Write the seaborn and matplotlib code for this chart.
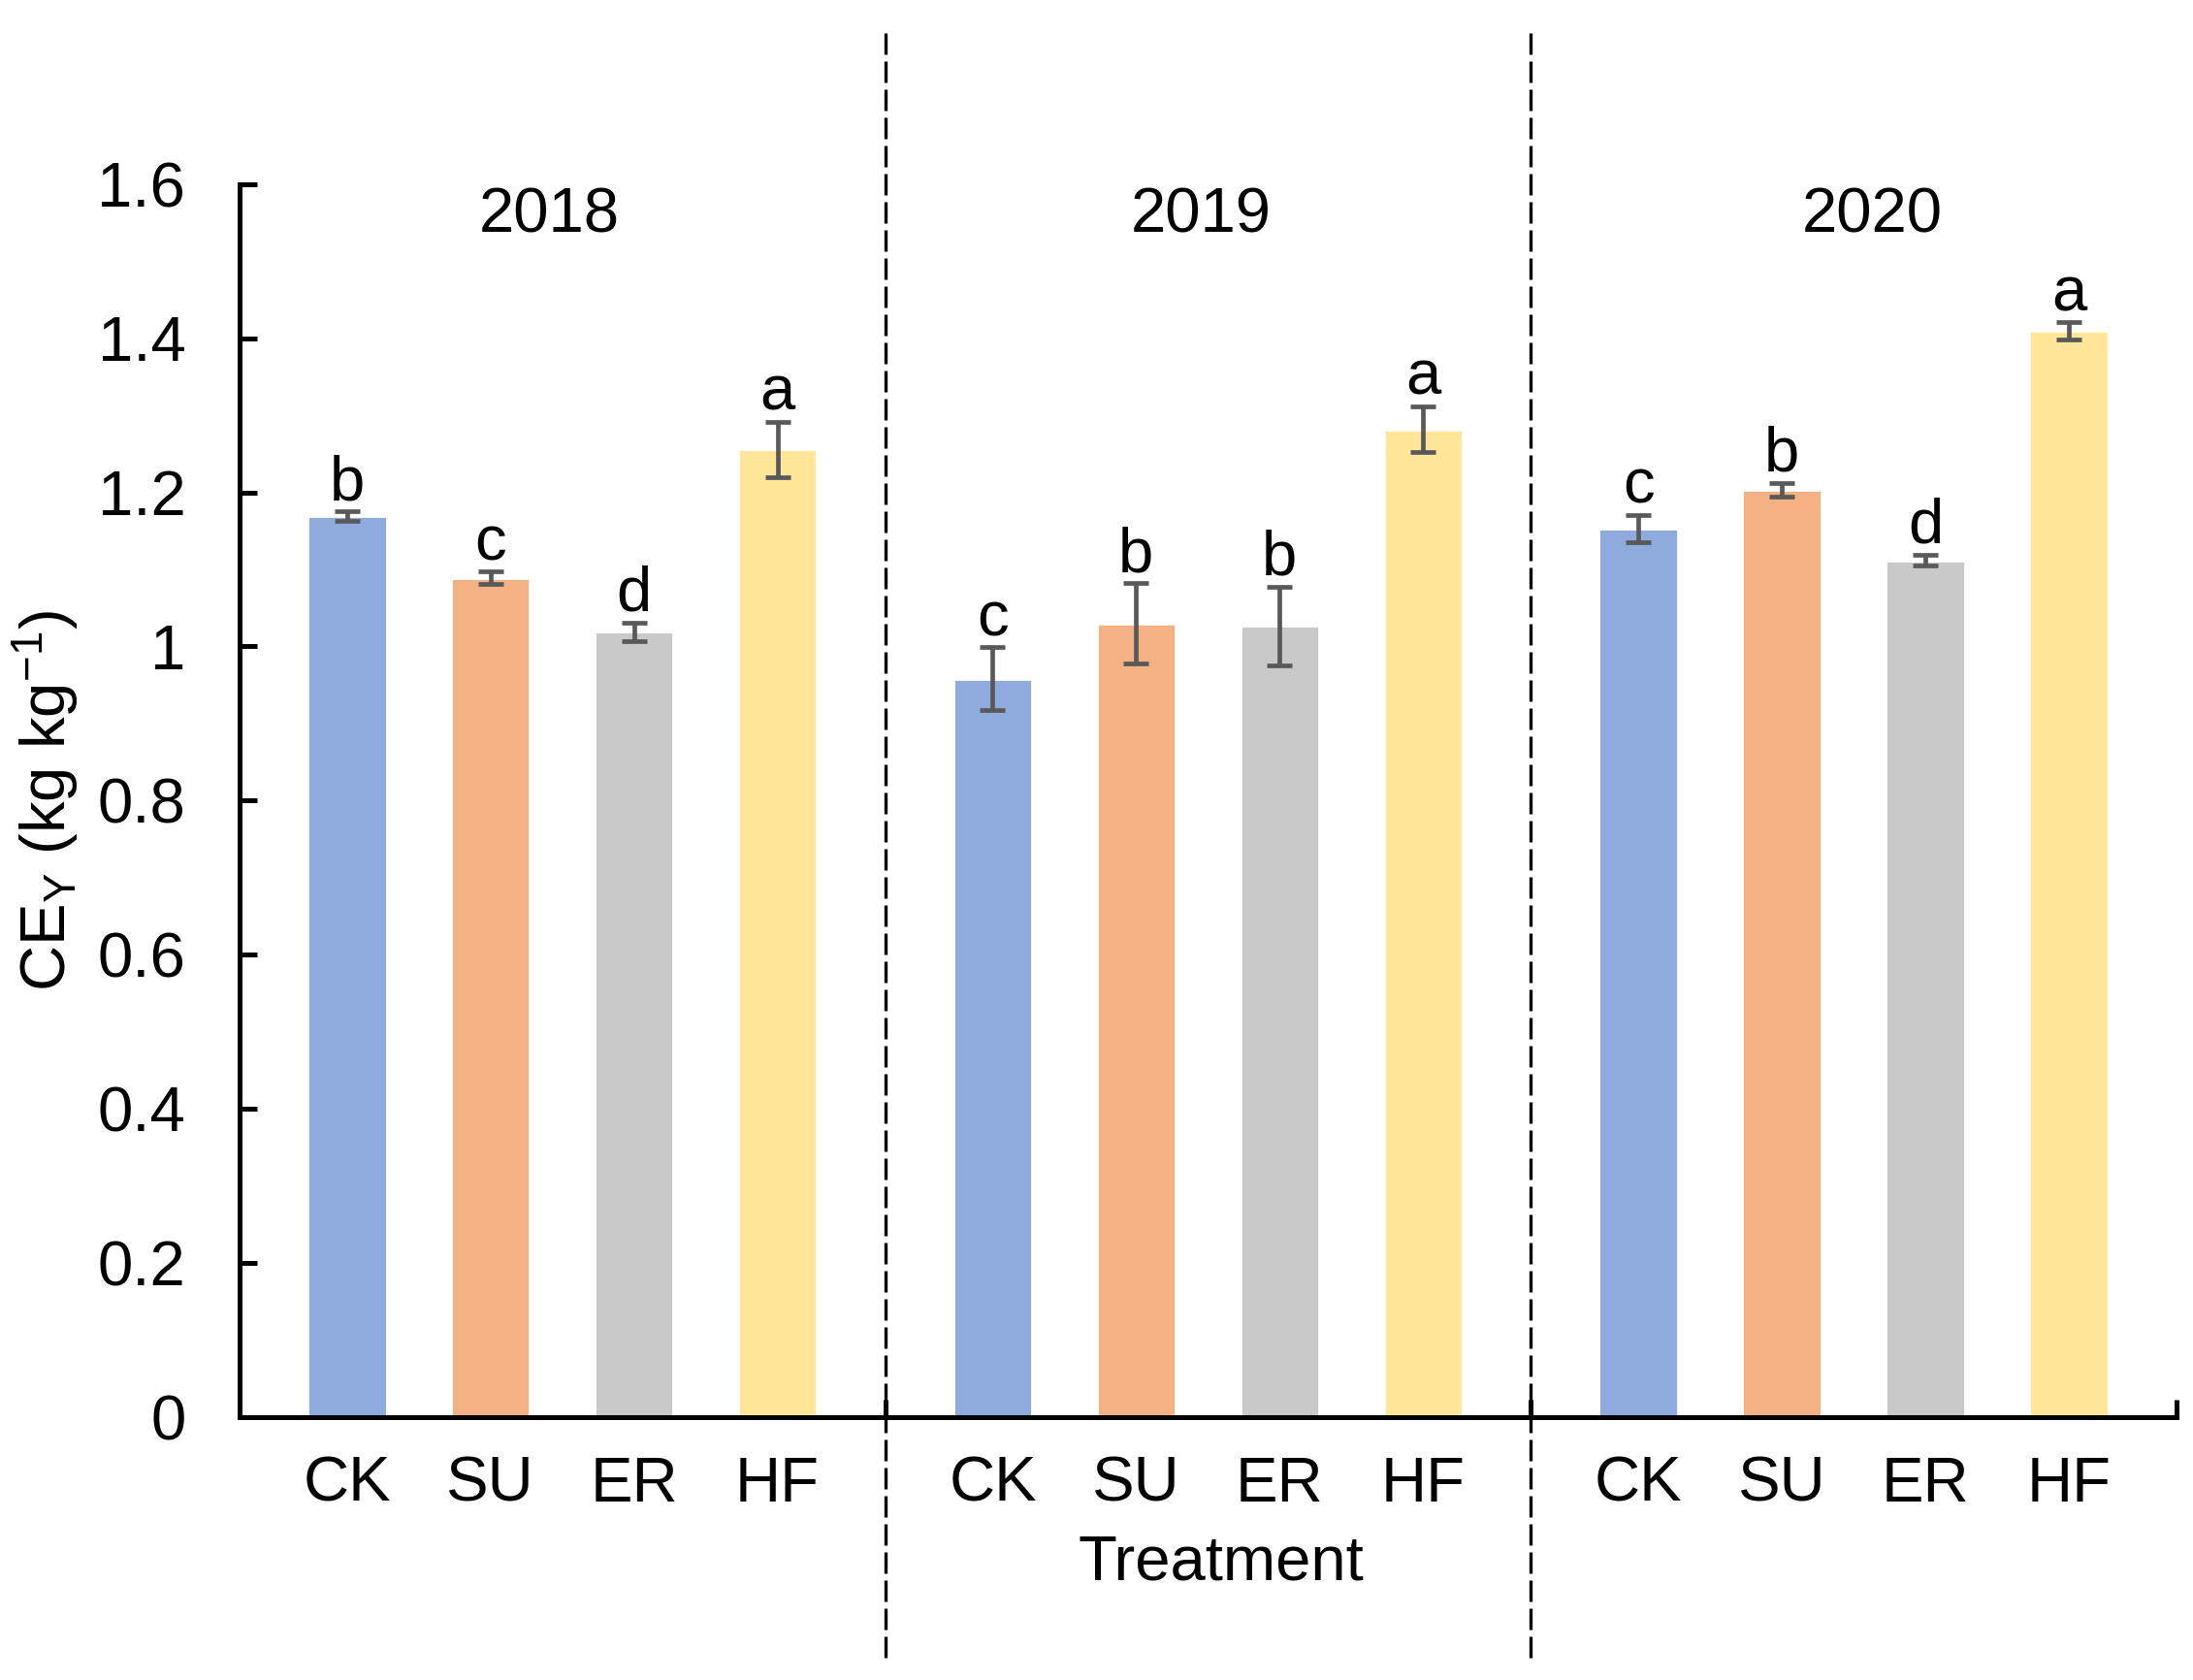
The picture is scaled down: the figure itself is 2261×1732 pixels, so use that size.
import numpy as np
import pandas as pd
import matplotlib
matplotlib.use("Agg")
import matplotlib.pyplot as plt
import seaborn as sns

# data
years = ["2018", "2019", "2020"]
treatments = ["CK", "SU", "ER", "HF"]
ce_2018 = [1.169, 1.089, 1.019, 1.256]
ce_2019 = [0.958, 1.030, 1.027, 1.282]
ce_2020 = [1.153, 1.2035, 1.112, 1.410]
se_2018 = [0.0065, 0.008, 0.012, 0.036]
se_2019 = [0.041, 0.052, 0.051, 0.030]
se_2020 = [0.018, 0.009, 0.0075, 0.011]
letters_2018 = ["b", "c", "d", "a"]
letters_2019 = ["c", "b", "b", "a"]
letters_2020 = ["c", "b", "d", "a"]
colors = ["#8FAADC", "#F4B183", "#C9C9C9", "#FFE699"]

rows = []
for g, (yr, vals, errs, lets) in enumerate(zip(years,
                                               [ce_2018, ce_2019, ce_2020],
                                               [se_2018, se_2019, se_2020],
                                               [letters_2018, letters_2019, letters_2020])):
    for i, t in enumerate(treatments):
        rows.append(dict(year=yr, treatment=t, pos=g * 4.5 + i,
                         value=vals[i], err=errs[i], letter=lets[i]))
df = pd.DataFrame(rows)

sns.set_style("ticks")
plt.rcParams["font.family"] = ["Liberation Sans", "DejaVu Sans"]
plt.rcParams["mathtext.fontset"] = "custom"
plt.rcParams["mathtext.rm"] = "Liberation Sans"
plt.rcParams["mathtext.it"] = "Liberation Sans:italic"
plt.rcParams["text.color"] = "black"
plt.rcParams["axes.labelcolor"] = "black"
fs = 23.5

fig = plt.figure(figsize=(11.305, 8.66), dpi=200)
ax = fig.add_axes([0.1092, 0.1567, 0.8832, 0.7336])

sns.barplot(data=df, x="pos", y="value", hue="treatment", hue_order=treatments,
            palette=colors, native_scale=True, dodge=False, width=0.55,
            errorbar=None, saturation=1, legend=False, ax=ax)
ax.errorbar(df["pos"], df["value"], yerr=df["err"], fmt="none", ecolor="#595959",
            elinewidth=1.7, capsize=4.7, capthick=1.7)

for _, r in df.iterrows():
    ax.annotate(r["letter"], (r["pos"], r["value"] + r["err"]), xytext=(0, 4.3),
                textcoords="offset points", ha="center", va="baseline",
                fontsize=fs, color="black")

# year labels
for x, yr in zip([1.41, 5.95, 10.63], years):
    ax.text(x, 1.538, yr, ha="center", va="baseline", fontsize=fs, color="black")

ax.set_xlim(-0.75, 12.75)
ax.set_ylim(0, 1.6)
yt = np.round(np.arange(0, 1.61, 0.2), 1)
ax.set_yticks(yt, [f"{v:g}" for v in yt])
ax.set_xticks(df["pos"], df["treatment"])
ax.set_xticks([3.75, 8.25, 12.75], minor=True)

ax.tick_params(axis="y", direction="in", length=6.5, width=1.8, pad=20,
               labelsize=fs, color="black", labelcolor="black")
ax.tick_params(axis="x", which="major", length=0, pad=14.5, labelsize=fs,
               labelcolor="black")
ax.tick_params(axis="x", which="minor", direction="in", length=6.5, width=1.8,
               color="black")

for side in ["top", "right"]:
    ax.spines[side].set_visible(False)
for side in ["left", "bottom"]:
    ax.spines[side].set_linewidth(1.8)
    ax.spines[side].set_color("black")

# group separators
for b in [3.75, 8.25]:
    ax.axvline(b, ymin=-0.1955, ymax=1.128, clip_on=False, color="black",
               lw=1.2, linestyle=(0, (6.6, 2.1)))

ax.set_xlabel("")
ax.set_ylabel(r"CE$_\mathrm{Y}$ (kg kg$^{-1}$)", fontsize=fs, color="black")
ax.yaxis.set_label_coords(-0.0816, 0.5)
ax.text(0.507, -0.1325, "Treatment", transform=ax.transAxes, ha="center",
        va="baseline", fontsize=fs, color="black")

fig.savefig("out.png", dpi=200)
